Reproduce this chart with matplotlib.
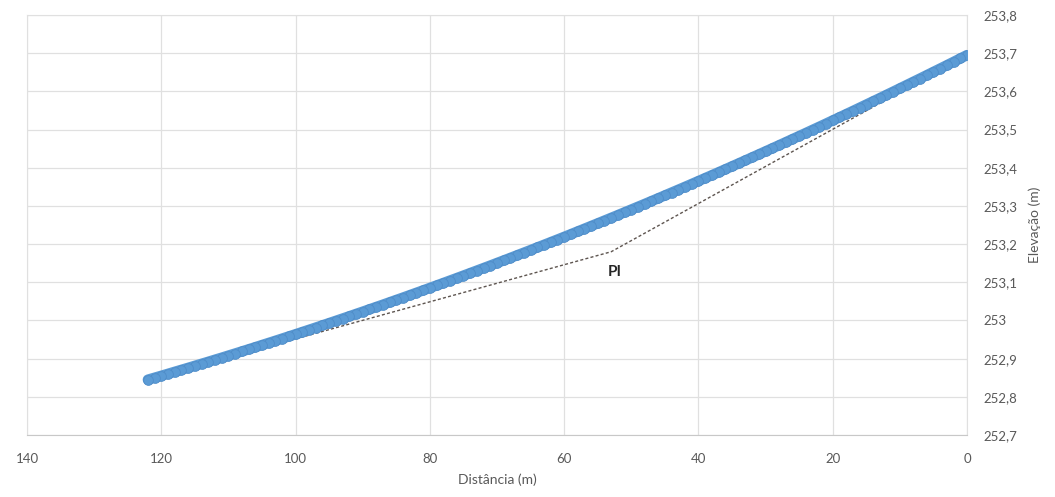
import matplotlib
matplotlib.use("Agg")
import matplotlib.pyplot as plt
from matplotlib.ticker import FuncFormatter, MultipleLocator

# ---------- DATA ------------
distancia = list(range(0, 123))
elevacao = [
    253.6950, 253.6862, 253.6773, 253.6685, 253.6598, 253.6511, 253.6424, 253.6337, 253.6251, 253.6165,
    253.6079, 253.5993, 253.5908, 253.5823, 253.5739, 253.5655, 253.5571, 253.5487, 253.5404, 253.5321,
    253.5239, 253.5156, 253.5074, 253.4993, 253.4911, 253.4830, 253.4750, 253.4669, 253.4589, 253.4509,
    253.4430, 253.4351, 253.4272, 253.4193, 253.4115, 253.4037, 253.3959, 253.3882, 253.3805, 253.3729,
    253.3652, 253.3576, 253.3500, 253.3425, 253.3350, 253.3275, 253.3200, 253.3126, 253.3052, 253.2979,
    253.2906, 253.2833, 253.2760, 253.2688, 253.2616, 253.2544, 253.2473, 253.2402, 253.2331, 253.2260,
    253.2190, 253.2120, 253.2051, 253.1982, 253.1913, 253.1844, 253.1776, 253.1708, 253.1640, 253.1573,
    253.1506, 253.1439, 253.1373, 253.1307, 253.1241, 253.1176, 253.1110, 253.1046, 253.0981, 253.0917,
    253.0853, 253.0789, 253.0726, 253.0663, 253.0600, 253.0538, 253.0476, 253.0414, 253.0353, 253.0292,
    253.0231, 253.0171, 253.0110, 253.0051, 252.9991, 252.9932, 252.9873, 252.9814, 252.9756, 252.9698,
    252.9640, 252.9583, 252.9526, 252.9469, 252.9413, 252.9357, 252.9301, 252.9245, 252.9190, 252.9135,
    252.9081, 252.9026, 252.8973, 252.8919, 252.8866, 252.8813, 252.8760, 252.8708, 252.8656, 252.8604,
    252.8552, 252.8501, 252.8450,
]
tangente_x = [122, 53, 0]
tangente_y = [252.845, 253.18, 253.695]
pi_pos = (52.5, 253.127)
# ----------------------------

plt.rcParams['font.family'] = ['Lato', 'DejaVu Sans']

fig = plt.figure(figsize=(10.55, 4.97), dpi=100)
ax = fig.add_axes([0.0256, 0.1247, 0.891, 0.8451])

ax.plot(tangente_x, tangente_y, linestyle=(0, (2.2, 1.6)), color='#5e5550', linewidth=1.0, zorder=2)
# pontos muito densos no original -> banda continua
ax.plot(distancia, elevacao, color='#5B9BD5', linewidth=7.5, solid_capstyle='round',
        marker='o', markersize=7, markerfacecolor='#5B9BD5', markeredgecolor='#4f8cc8',
        markeredgewidth=0.6, zorder=3)
ax.text(pi_pos[0], pi_pos[1], "PI", ha='center', va='center', fontsize=11,
        fontweight='bold', color='#262626')

ax.set_xlim(140, 0)
ax.set_ylim(252.7, 253.8)
ax.xaxis.set_major_locator(MultipleLocator(20))
ax.yaxis.set_major_locator(MultipleLocator(0.1))


def virgula(v, pos):
    return ('%g' % round(v, 1)).replace('.', ',')


ax.yaxis.set_major_formatter(FuncFormatter(virgula))
ax.xaxis.set_major_formatter(FuncFormatter(lambda v, p: '%d' % round(v)))
ax.yaxis.tick_right()
ax.yaxis.set_label_position('right')
ax.tick_params(axis='both', length=0, labelsize=9.5, labelcolor='#595959')
ax.tick_params(axis='x', pad=13)
ax.tick_params(axis='y', pad=12)

ax.grid(True, color='#e0e0e0', linewidth=0.9)
ax.set_axisbelow(True)
for s in ax.spines.values():
    s.set_color('#e0e0e0')
ax.spines['bottom'].set_color('#c8c8c8')

ax.set_xlabel("Distância (m)", fontsize=10, color='#595959', labelpad=6)
ax.set_ylabel("Elevação (m)", fontsize=10, color='#595959', labelpad=8)

fig.savefig("out.png", dpi=100)
